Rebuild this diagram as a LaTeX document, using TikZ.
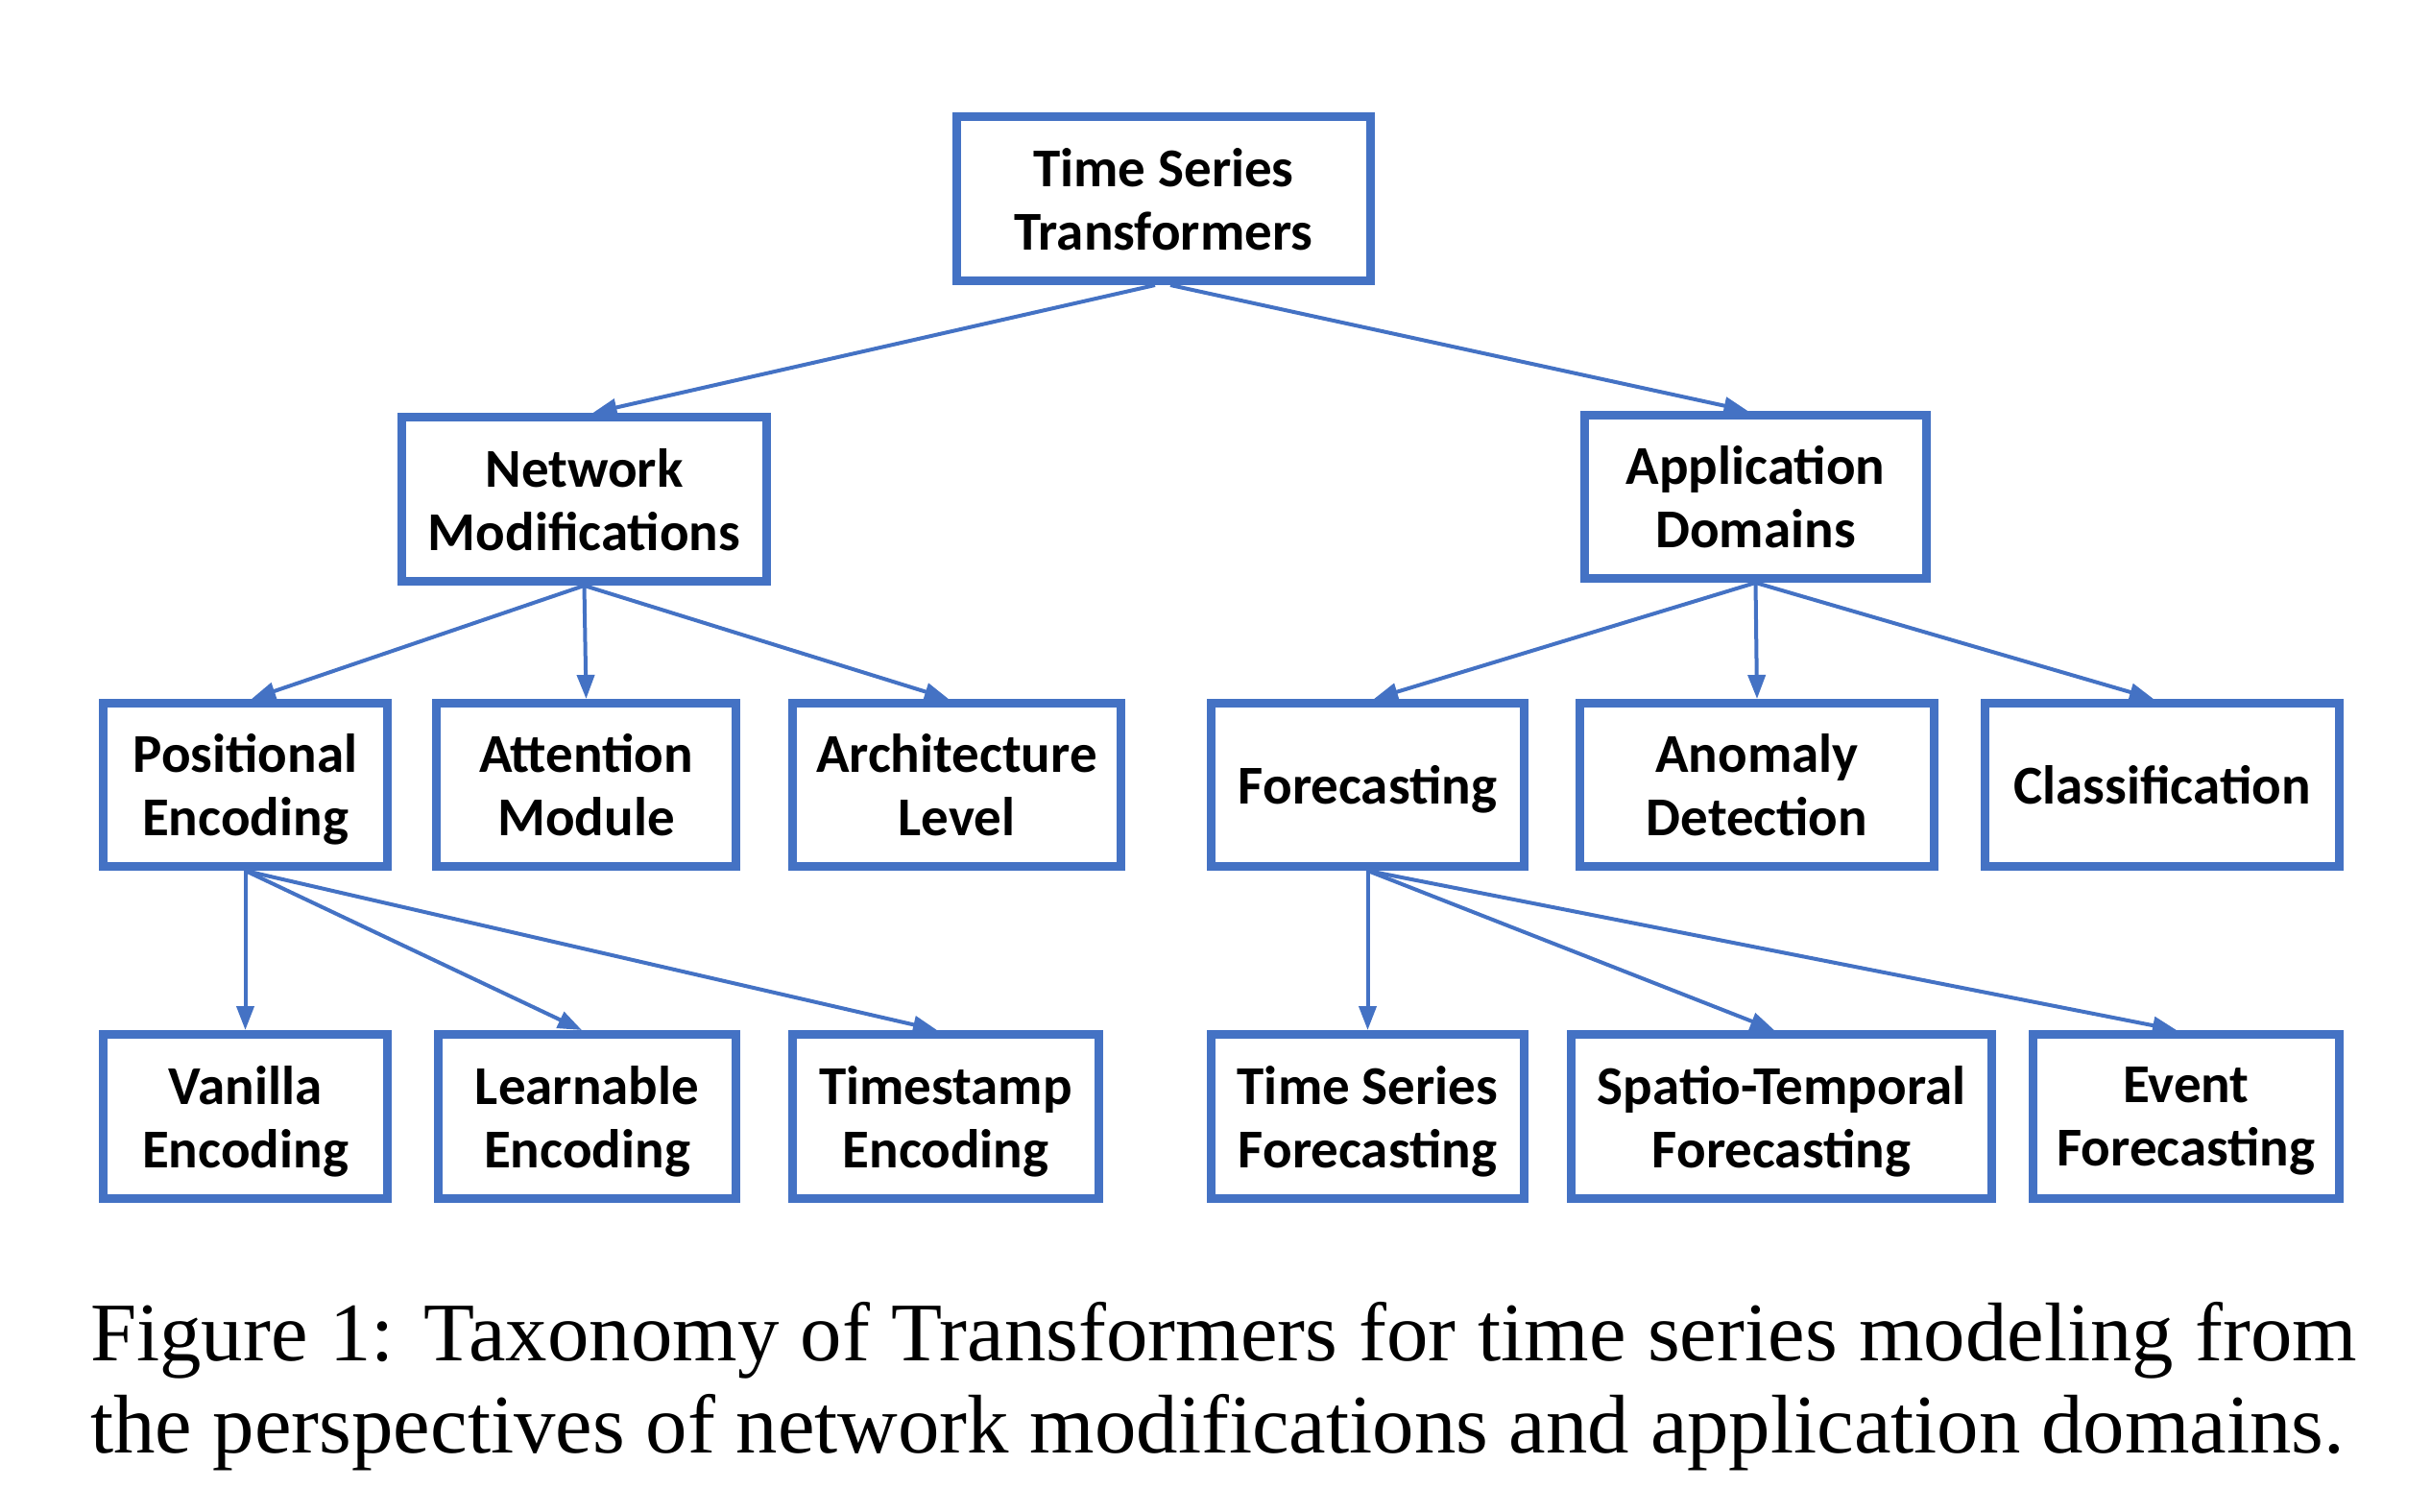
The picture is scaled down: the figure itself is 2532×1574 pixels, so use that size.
\documentclass[tikz,border=0pt]{standalone}
\usepackage{fontspec}
\setmainfont{Liberation Serif}
\newfontfamily\boxfont{Carlito}
\usetikzlibrary{arrows.meta}
\definecolor{tsblue}{HTML}{4472C4}

\tikzset{
  box/.style={draw=tsblue, line width=9pt, rectangle, inner sep=0pt,
    align=center, text=black, text depth=0pt,
    font=\boxfont\bfseries\fontsize{57}{66}\selectfont},
  link/.style={draw=tsblue, line width=4pt,
    -{Triangle[length=25pt, width=18pt]}},
  captionline/.style={anchor=base west, inner sep=0pt,
    font=\fontsize{86.8}{96}\selectfont}
}

\begin{document}
\begin{tikzpicture}[x=1pt, y=1pt]
  \useasboundingbox (0,0) rectangle (2532,-1574);

  % root
  \node[box, minimum width=431, minimum height=171] (root) at (1212,-207)
    {Time Series\\Transformers};

  % second level
  \node[box, minimum width=380, minimum height=171] (net) at (608.5,-520)
    {Network\\Modifications};
  \node[box, minimum width=356, minimum height=170] (app) at (1828.5,-517.5)
    {Application\\Domains};

  % third level
  \node[box, minimum width=296, minimum height=170] (pos) at (255.5,-817.5)
    {Positional\\Encoding};
  \node[box, minimum width=312, minimum height=170] (att) at (610.5,-817.5)
    {Attention\\Module};
  \node[box, minimum width=342, minimum height=170] (arch) at (996.5,-817.5)
    {Architecture\\Level};
  \node[box, minimum width=326, minimum height=170] (fore) at (1424.5,-817.5)
    {Forecasting};
  \node[box, minimum width=369, minimum height=170] (anom) at (1830,-817.5)
    {Anomaly\\Detection};
  \node[box, minimum width=369, minimum height=170] (cls) at (2252,-817.5)
    {Classification};

  % fourth level
  \node[box, minimum width=296, minimum height=171] (van) at (255.5,-1163)
    {Vanilla\\Encoding};
  \node[box, minimum width=310, minimum height=171] (learn) at (611.5,-1163)
    {Learnable\\Encoding};
  \node[box, minimum width=319, minimum height=171] (tstamp) at (985,-1163)
    {Timestamp\\Encoding};
  \node[box, minimum width=326, minimum height=171] (tsf) at (1424.5,-1163)
    {Time Series\\Forecasting};
  \node[box, minimum width=438, minimum height=171] (stf) at (1855.5,-1163)
    {Spatio-Temporal\\Forecasting};
  \node[box, minimum width=319, minimum height=171] (evf) at (2277,-1163)
    {Event\\Forecasting};

  % connectors
  \draw[link] ([xshift=-9pt]root.south) -- ([xshift=9pt]net.north);
  \draw[link] ([xshift=7pt]root.south) -- ([xshift=-8pt]app.north);

  \draw[link] (net.south) -- ([xshift=6.5pt]pos.north);
  \draw[link] (net.south) -- (att.north);
  \draw[link] (net.south) -- ([xshift=-8.5pt]arch.north);

  \draw[link] (app.south) -- ([xshift=6.5pt]fore.north);
  \draw[link] (app.south) -- (anom.north);
  \draw[link] (app.south) -- ([xshift=-9pt]cls.north);

  \draw[link] (pos.south) -- (van.north);
  \draw[link] (pos.south) -- ([xshift=-5.5pt]learn.north);
  \draw[link] (pos.south) -- ([xshift=-9pt]tstamp.north);

  \draw[link] (fore.south) -- (tsf.north);
  \draw[link] (fore.south) -- ([xshift=-7.5pt]stf.north);
  \draw[link] (fore.south) -- ([xshift=-10pt]evf.north);

  % caption
  \node[captionline] (cap1) at (94,-1417)
    {\makebox[2361pt][s]{Figure 1: Taxonomy of Transformers for time series modeling from}};
  \node[captionline] (cap2) at (94,-1513)
    {the perspectives of network modifications and application domains.};
\end{tikzpicture}
\end{document}
